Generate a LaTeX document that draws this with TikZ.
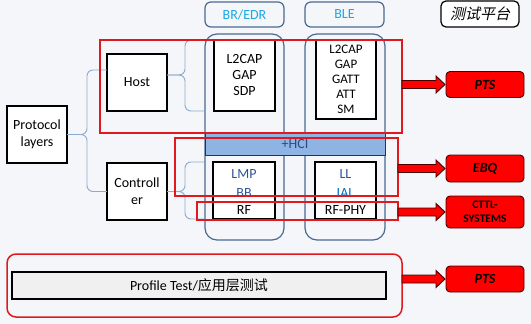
\documentclass[tikz,border=0pt]{standalone}
\usepackage{fontspec}
\setmainfont{Carlito}
\newfontfamily\cjk{Noto Sans CJK SC}
\newfontfamily\cjkslant[FakeSlant=0.22]{Noto Sans CJK SC}
\usetikzlibrary{calc}
\definecolor{bgc}{RGB}{244,246,249}
\definecolor{colline}{RGB}{75,105,145}
\definecolor{labtext}{RGB}{25,170,230}
\definecolor{bracec}{RGB}{140,170,205}
\definecolor{hcifill}{RGB}{141,180,226}
\definecolor{hcitext}{RGB}{40,75,135}
\definecolor{lmptext}{RGB}{45,85,150}
\definecolor{ialtext}{RGB}{0,112,192}
\definecolor{redline}{RGB}{225,25,30}
\definecolor{darkred}{RGB}{70,0,0}
\definecolor{tgfill}{RGB}{255,0,0}
\definecolor{profill}{RGB}{240,240,240}
\tikzset{
  base/.style={inner sep=0pt, outer sep=0pt, anchor=north west, align=center},
  bbox/.style={base, draw=black, line width=1.3pt, fill=white, font=\fontsize{14}{17}\selectfont},
  colbox/.style={base, draw=colline, line width=1.2pt, rounded corners=12pt},
  labbox/.style={base, draw=colline, line width=1.2pt, rounded corners=6pt, fill=bgc, text=labtext, font=\fontsize{14}{16}\selectfont},
  redthin/.style={base, draw=redline, line width=1.2pt},
  redthick/.style={base, draw=redline, line width=2.3pt},
  target/.style={base, draw=darkred, line width=0.9pt, fill=tgfill, rounded corners=4pt, font=\fontsize{14}{15}\selectfont\bfseries\itshape},
  bracel/.style={draw=bracec, line width=0.9pt, rounded corners=6pt},
  barrow/.style={fill=tgfill, draw=darkred, line width=0.9pt, line join=miter},
  txt/.style={inner sep=0pt, font=\fontsize{14}{16}\selectfont}
}
\newcommand\blkarrow[2]{%
  \path[barrow] ($(#1.east |- #2.west)+(0,-4)$) -- ($(#2.west)+(-10,-4)$) -- ($(#2.west)+(-10,-8.5)$) -- ($(#2.west)+(-1,0)$) -- ($(#2.west)+(-10,8.5)$) -- ($(#2.west)+(-10,4)$) -- ($(#1.east |- #2.west)+(0,4)$) -- cycle;}
\begin{document}
\begin{tikzpicture}[x=1pt,y=-1pt]
\useasboundingbox (0,0) rectangle (531,324);
\fill[bgc] (0,0) rectangle (531,324);

% columns and labels
\node[colbox, minimum width=79pt, minimum height=206pt] (col1) at (205,34) {};
\node[colbox, minimum width=80pt, minimum height=206pt] (col2) at (305,34) {};
\node[labbox, minimum width=79pt, minimum height=25pt] (lab1) at (205,2) {BR/EDR};
\node[labbox, minimum width=79pt, minimum height=25pt] (lab2) at (305,2) {BLE};
\node[base, draw=black, line width=1.2pt, rounded corners=5pt, fill=white, minimum width=78pt, minimum height=26pt, font=\fontsize{15}{16}\selectfont\cjkslant] (test) at (441,1) {测试平台};

% left boxes
\node[bbox, minimum width=60pt, minimum height=57pt] (proto) at (7,106) {Protocol\\layers};
\node[bbox, minimum width=60pt, minimum height=57pt] (host) at (107,54) {Host};
\node[bbox, minimum width=60pt, minimum height=57pt] (ctrl) at (107,163) {Controll\\er};

% stacks
\node[bbox, minimum width=61pt, minimum height=71pt, font=\fontsize{14}{16}\selectfont] (l2a) at (214,40) {L2CAP\\GAP\\SDP};
\node[bbox, minimum width=60pt, minimum height=79pt, font=\fontsize{13}{15}\selectfont] (l2b) at (316,40) {L2CAP\\GAP\\GATT\\ATT\\SM};
\node[base, draw=black!80, line width=1pt, fill=hcifill, minimum width=180pt, minimum height=22pt, text=hcitext, font=\fontsize{14}{16}\selectfont] (hci) at (205,133) {+HCI};
\node[bbox, minimum width=62pt, minimum height=57pt] (lmp) at (213,162) {};
\node[bbox, minimum width=61pt, minimum height=57pt] (ll) at (315,162) {};
\node[txt, text=lmptext] (tlmp) at (244,174) {LMP};
\node[txt, text=lmptext] (tll) at (345.5,174) {LL};
\begin{scope}
  \clip (205,180) rectangle (390,195.5);
  \node[txt, text=lmptext] (tbb) at (244,193) {BB};
  \node[txt, text=ialtext] (tial) at (345.5,193) {IAL};
\end{scope}
\node[txt] (trf) at (244,210) {RF};
\node[txt] (trfphy) at (345.5,210) {RF-PHY};

% braces
\draw[bracel] (proto.east) -- (87,134.5) -- (87,70) -- ([yshift=12.5pt]host.west);
\draw[bracel] (proto.east) -- (87,134.5) -- (87,191.5) -- (ctrl.west);
\draw[bracel] ([yshift=7.5pt]host.east) -- (185,75) -- (185,40) -- (col1.west |- l2a.north);
\draw[bracel] ([yshift=7.5pt]host.east) -- (185,75) -- (185,111) -- (col1.west |- l2a.south);
\draw[bracel] (ctrl.east) -- (185,191.5) -- (185,162) -- (col1.west |- lmp.north);
\draw[bracel] (ctrl.east) -- (185,191.5) -- (185,219) -- (col1.west |- lmp.south);

% profile
\node[base, draw=redline, line width=1.5pt, rounded corners=9pt, minimum width=395pt, minimum height=63pt] (profred) at (7,254) {};
\node[base, draw=black, line width=1.3pt, fill=profill, minimum width=374pt, minimum height=27pt, font=\fontsize{14}{16}\selectfont] (prof) at (12,272) {Profile Test/{\cjk 应用层测试}};

% red frames
\node[redthin, minimum width=302pt, minimum height=93pt] (hostred) at (100,40) {};
\node[redthick, minimum width=223pt, minimum height=58pt] (ctrlred) at (175,138) {};
\node[redthick, minimum width=201pt, minimum height=18pt] (rfred) at (197,202) {};

% targets
\node[target, minimum width=78pt, minimum height=26pt] (pts1) at (446,71.5) {PTS};
\node[target, minimum width=78pt, minimum height=27pt] (ebq) at (446,155) {EBQ};
\node[target, minimum width=78pt, minimum height=32pt, font=\fontsize{11.5}{14}\selectfont\bfseries] (cttl) at (446,196) {CTTL-\\SYSTEMS};
\node[target, minimum width=78pt, minimum height=26pt] (pts2) at (446,266) {PTS};

% arrows
\blkarrow{hostred}{pts1}
\blkarrow{ctrlred}{ebq}
\blkarrow{rfred}{cttl}
\blkarrow{profred}{pts2}
\end{tikzpicture}
\end{document}
